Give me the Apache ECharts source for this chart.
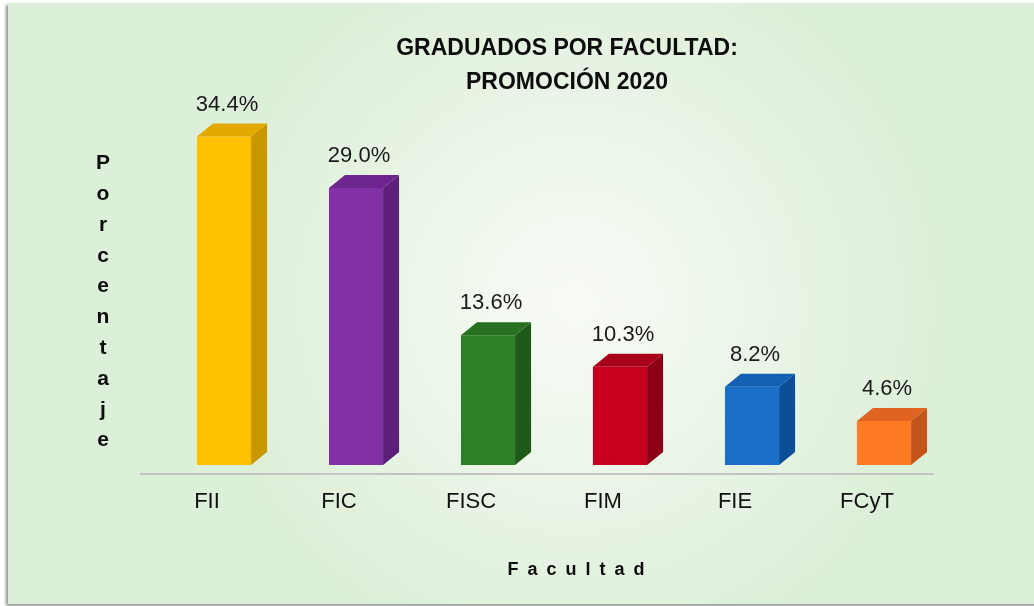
<!DOCTYPE html>
<html>
<head>
<meta charset="utf-8">
<title>Graduados por facultad</title>
<script src="https://cdn.jsdelivr.net/npm/echarts@6/dist/echarts.min.js"></script>
<style>
  html, body { margin: 0; padding: 0; background: #ffffff; }
  #chart { width: 1034px; height: 606px; }
</style>
</head>
<body>
<div id="chart"></div>
<script>
// datos del gráfico
const categories = ['FII', 'FIC', 'FISC', 'FIM', 'FIE', 'FCyT'];
const percentages = [34.4, 29.0, 13.6, 10.3, 8.2, 4.6];
const titleLines = ['GRADUADOS POR FACULTAD:', 'PROMOCIÓN 2020'];
const yName = 'Porcentaje';
const xName = 'Facultad';

// colores por barra: cara frontal, lateral y superior
const frontColors = ['#ffc000', '#8230a6', '#2f7f27', '#c8001e', '#1a6fc9', '#ff7a25'];
const sideColors  = ['#c99700', '#5c1f7a', '#1f5a1a', '#8c0016', '#0b4f99', '#c4551a'];
const topColors   = ['#e3a900', '#6f2590', '#27701f', '#a8001a', '#1460b2', '#e06420'];

const FONT = '"Liberation Sans", Arial, sans-serif';

const chart = echarts.init(document.getElementById('chart'));

// dibuja una barra con efecto 3D (frente, lateral y tapa)
function renderBar3D(params, api) {
    const idx = api.value(0);
    const val = api.value(1);
    const base = api.coord([idx, 0]);
    const top = api.coord([idx, val]);
    const band = api.size([1, 0])[0];
    const w = band * 0.41;
    const x0 = base[0] - band * 0.076;
    const x1 = x0 + w;
    const dx = 16, dy = 13;
    return {
        type: 'group',
        children: [
            {
                type: 'rect',
                shape: { x: x0, y: top[1], width: w, height: base[1] - top[1] },
                style: { fill: frontColors[idx] }
            },
            {
                type: 'polygon',
                shape: { points: [[x1, top[1]], [x1 + dx, top[1] - dy], [x1 + dx, base[1] - dy], [x1, base[1]]] },
                style: { fill: sideColors[idx] }
            },
            {
                type: 'polygon',
                shape: { points: [[x0, top[1]], [x0 + dx, top[1] - dy], [x1 + dx, top[1] - dy], [x1, top[1]]] },
                style: { fill: topColors[idx] }
            },
            {
                type: 'text',
                style: {
                    text: val.toFixed(1) + '%',
                    x: x0 + w / 2 + 3,
                    y: top[1] - dy - 8,
                    align: 'center',
                    verticalAlign: 'bottom',
                    fill: '#1a1a1a',
                    font: '22px ' + FONT
                }
            }
        ]
    };
}

const option = {
    animation: false,
    backgroundColor: '#ffffff',
    graphic: [
        {
            type: 'rect',
            z: -10,
            shape: { x: 8, y: 3, width: 1030, height: 601 },
            style: {
                fill: new echarts.graphic.RadialGradient(0.55, 0.5, 0.62, [
                    { offset: 0, color: '#f8fbf6' },
                    { offset: 1, color: '#dcefd8' }
                ]),
                shadowBlur: 3,
                shadowOffsetX: -2,
                shadowOffsetY: 2,
                shadowColor: 'rgba(0,0,0,0.45)'
            }
        },
        {
            type: 'text',
            style: {
                text: titleLines.join('\n'),
                x: 567,
                y: 66,
                align: 'center',
                verticalAlign: 'middle',
                lineHeight: 34,
                fill: '#0d0d0d',
                font: 'bold 23px ' + FONT
            }
        },
        {
            type: 'text',
            style: {
                text: yName.split('').join('\n'),
                x: 103,
                y: 302,
                align: 'center',
                verticalAlign: 'middle',
                lineHeight: 30.8,
                fill: '#0d0d0d',
                font: 'bold 21px ' + FONT
            }
        },
        {
            type: 'text',
            style: {
                text: xName.split('').join('\u2002'),
                x: 576,
                y: 570,
                align: 'center',
                verticalAlign: 'middle',
                fill: '#0d0d0d',
                font: 'bold 18px ' + FONT
            }
        }
    ],
    grid: {
        left: 141,
        right: 101,
        top: 83,
        bottom: 132
    },
    xAxis: {
        type: 'category',
        data: categories,
        axisLine: { onZero: false, lineStyle: { color: '#c4c4c4', width: 2 } },
        axisTick: { show: false },
        axisLabel: {
            margin: 17,
            color: '#111111',
            fontSize: 22,
            fontFamily: FONT
        }
    },
    // el mínimo negativo deja el suelo de las barras un poco por encima del eje
    yAxis: {
        type: 'value',
        min: -0.94,
        max: 40,
        show: false
    },
    series: [
        {
            type: 'custom',
            renderItem: renderBar3D,
            encode: { x: 0, y: 1 },
            data: percentages.map((v, i) => [i, v])
        }
    ]
};

chart.setOption(option);
window.addEventListener('resize', () => chart.resize());
</script>
</body>
</html>
